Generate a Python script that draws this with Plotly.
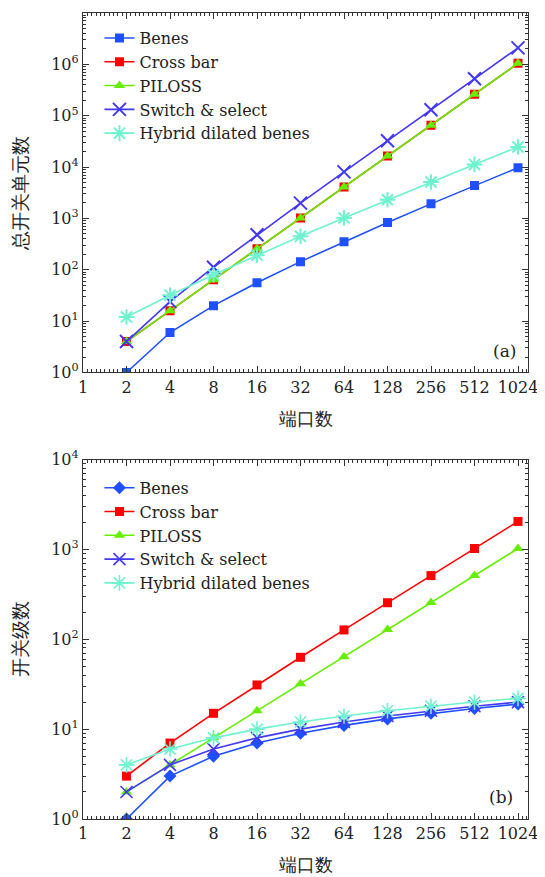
import plotly.graph_objects as go
from plotly.subplots import make_subplots

ports = [2, 4, 8, 16, 32, 64, 128, 256, 512, 1024]
series_names = ["Benes", "Cross bar", "PILOSS", "Switch & select", "Hybrid dilated benes"]

# (a) total number of switch elements
benes_elems = [1, 6, 20, 56, 144, 352, 832, 1920, 4352, 9728]
crossbar_elems = [4, 16, 64, 256, 1024, 4096, 16384, 65536, 262144, 1048576]
piloss_elems = [4, 16, 64, 256, 1024, 4096, 16384, 65536, 262144, 1048576]
switchselect_elems = [4, 24, 112, 480, 1984, 8064, 32512, 130560, 523264, 2095104]
hdb_elems = [12, 32, 80, 192, 448, 1024, 2304, 5120, 11264, 24576]

# (b) number of switch stages
benes_stages = [1, 3, 5, 7, 9, 11, 13, 15, 17, 19]
crossbar_stages = [3, 7, 15, 31, 63, 127, 255, 511, 1023, 2047]
piloss_stages = [2, 4, 8, 16, 32, 64, 128, 256, 512, 1024]
switchselect_stages = [2, 4, 6, 8, 10, 12, 14, 16, 18, 20]
hdb_stages = [4, 6, 8, 10, 12, 14, 16, 18, 20, 22]

x_ticks = [1, 2, 4, 8, 16, 32, 64, 128, 256, 512, 1024]

colors = ["#1f50ff", "#ff0000", "#66ee00", "#4338f5", "#6ff2cf"]
sym_a = ["square", "square", "triangle-up", "x-thin-open", "asterisk-open"]
sym_b = ["diamond", "square", "triangle-up", "x-thin-open", "asterisk-open"]
size_a = [9, 9, 10, 13, 13]
size_b = [10, 9, 10, 12, 13]

FONT = "DejaVu Serif"

fig = make_subplots(rows=2, cols=1, vertical_spacing=0.108)

data_a = [benes_elems, crossbar_elems, piloss_elems, switchselect_elems, hdb_elems]
data_b = [benes_stages, crossbar_stages, piloss_stages, switchselect_stages, hdb_stages]

for i, name in enumerate(series_names):
    fig.add_trace(go.Scatter(
        x=ports, y=data_a[i], name=name, mode="lines+markers",
        line=dict(color=colors[i], width=1.6),
        marker=dict(symbol=sym_a[i], size=size_a[i], color=colors[i],
                    line=dict(color=colors[i], width=2 if i >= 3 else 0)),
        legend="legend"), row=1, col=1)
for i, name in enumerate(series_names):
    fig.add_trace(go.Scatter(
        x=ports, y=data_b[i], name=name, mode="lines+markers",
        line=dict(color=colors[i], width=1.6),
        marker=dict(symbol=sym_b[i], size=size_b[i], color=colors[i],
                    line=dict(color=colors[i], width=1.6 if i >= 3 else 0)),
        legend="legend2"), row=2, col=1)

minor_x = [2 ** (k + j / 10) for k in range(11) for j in range(1, 10)]

def ytick_text(n):
    return ["10<sup>%d</sup>" % k for k in range(n + 1)]

axis_common = dict(
    type="log", showline=True, linecolor="#333", linewidth=1.3, mirror="ticks",
    ticks="inside", ticklen=6, tickwidth=1, tickcolor="#333",
    showgrid=False, zeroline=False, automargin=False,
    tickfont=dict(family=FONT, size=16, color="#222"),
)

for r in (1, 2):
    fig.update_xaxes(
        **axis_common, row=r, col=1,
        range=[0, 10.23 * 0.30103], ticklabeloverflow="allow",
        tickmode="array", tickvals=x_ticks, ticktext=[str(v) for v in x_ticks],
        minor=dict(tickmode="array", tickvals=minor_x, ticks="inside", ticklen=3,
                   tickcolor="#333", showgrid=False),
        title=dict(text="端口数", font=dict(family=FONT, size=18, color="#222"), standoff=16),
    )

fig.update_yaxes(
    **axis_common, row=1, col=1, range=[0, 7],
    tickmode="array", tickvals=[10 ** k for k in range(8)], ticktext=ytick_text(7),
    minor=dict(dtick="D1", ticks="inside", ticklen=3, tickcolor="#333", showgrid=False),
    title=dict(text="总开关单元数", font=dict(family=FONT, size=19, color="#222"), standoff=18),
)
fig.update_yaxes(
    **axis_common, row=2, col=1, range=[0, 4],
    tickmode="array", tickvals=[10 ** k for k in range(5)], ticktext=ytick_text(4),
    minor=dict(dtick="D1", ticks="inside", ticklen=3, tickcolor="#333", showgrid=False),
    title=dict(text="开关级数", font=dict(family=FONT, size=19, color="#222"), standoff=18),
)

legend_style = dict(
    bgcolor="rgba(255,255,255,0)", borderwidth=0,
    font=dict(family=FONT, size=16, color="#222"),
    tracegroupgap=0, itemwidth=30, xanchor="left", yanchor="top",
)

fig.update_layout(
    width=537, height=869,
    margin=dict(l=75, r=17, t=5, b=58),
    paper_bgcolor="white", plot_bgcolor="white",
    font=dict(family=FONT, color="#222"),
    legend=dict(**legend_style, x=0.037, y=0.99),
    legend2=dict(**legend_style, x=0.037, y=0.432),
    annotations=[
        dict(text="(a)", xref="x domain", yref="y domain", x=0.948, y=0.06,
             xanchor="center", yanchor="middle", showarrow=False,
             font=dict(family=FONT, size=17, color="#222")),
        dict(text="(b)", xref="x2 domain", yref="y2 domain", x=0.94, y=0.06,
             xanchor="center", yanchor="middle", showarrow=False,
             font=dict(family=FONT, size=17, color="#222")),
    ],
)

fig.write_html("out.html")
